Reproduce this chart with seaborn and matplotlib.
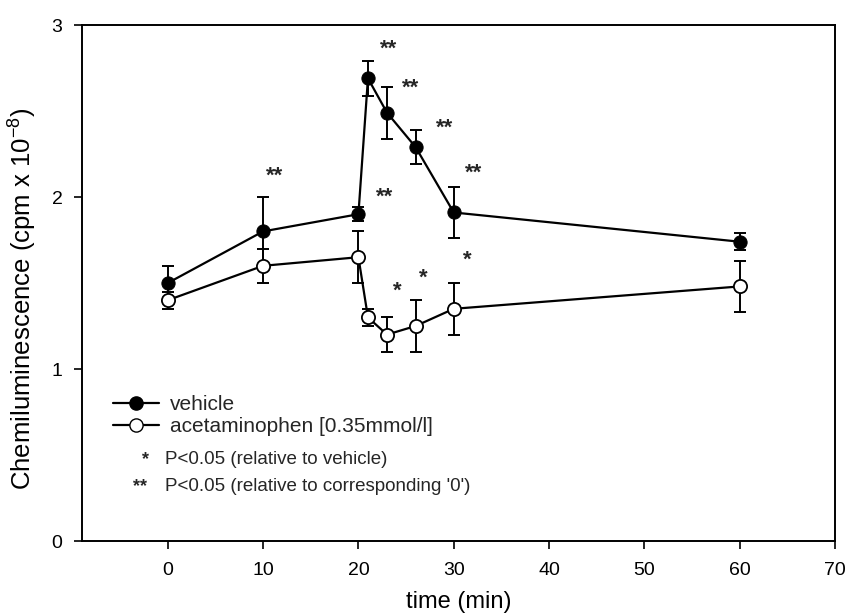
import numpy as np
import pandas as pd
import matplotlib
matplotlib.use("Agg")
import matplotlib.pyplot as plt
import seaborn as sns
from matplotlib.lines import Line2D

# ---- data ----
time_vehicle = [0, 10, 20, 21, 23, 26, 30, 60]
vehicle_mean = [1.50, 1.80, 1.90, 2.69, 2.49, 2.29, 1.91, 1.74]
vehicle_err = [0.10, 0.20, 0.04, 0.10, 0.15, 0.10, 0.15, 0.05]

time_acet = [0, 10, 20, 21, 23, 26, 30, 60]
acet_mean = [1.40, 1.60, 1.65, 1.30, 1.20, 1.25, 1.35, 1.48]
acet_err = [0.05, 0.10, 0.15, 0.05, 0.10, 0.15, 0.15, 0.15]

# significance marks (x, y)
dstar_x = [11.2, 22.8, 23.2, 25.5, 29.0, 32.1]
dstar_y = [2.12, 2.00, 2.86, 2.63, 2.40, 2.14]
star_x = [24.1, 26.8, 31.4]
star_y = [1.45, 1.53, 1.63]

x_ticks = [0, 10, 20, 30, 40, 50, 60, 70]
y_ticks = [0, 1, 2, 3]

sns.set_theme(style="white")
plt.rcParams['font.family'] = ['Liberation Sans', 'DejaVu Sans']
plt.rcParams['mathtext.fontset'] = 'custom'
plt.rcParams['mathtext.rm'] = 'Liberation Sans'
plt.rcParams['mathtext.it'] = 'Liberation Sans:italic'
plt.rcParams['mathtext.bf'] = 'Liberation Sans:bold'

fig = plt.figure(figsize=(8.49, 6.15), dpi=100)
ax = fig.add_axes([82/849, 1-541/615, (835-82)/849, (541-25)/615])

df = pd.concat([
    pd.DataFrame({"time": time_vehicle, "value": vehicle_mean, "group": "vehicle"}),
    pd.DataFrame({"time": time_acet, "value": acet_mean, "group": "acet"}),
])

# error bars
ax.errorbar(time_vehicle, vehicle_mean, yerr=vehicle_err, fmt='none',
            ecolor='black', elinewidth=1.4, capsize=4, capthick=1.4, zorder=2)
ax.errorbar(time_acet, acet_mean, yerr=acet_err, fmt='none',
            ecolor='black', elinewidth=1.4, capsize=4, capthick=1.4, zorder=2)

sns.lineplot(data=df[df.group == "vehicle"], x="time", y="value", ax=ax,
             color='black', lw=1.6, marker='o', markersize=9.5,
             markerfacecolor='black', markeredgecolor='black', zorder=3)
sns.lineplot(data=df[df.group == "acet"], x="time", y="value", ax=ax,
             color='black', lw=1.6, marker='o', markersize=9.5,
             markerfacecolor='white', markeredgecolor='black',
             markeredgewidth=1.3, zorder=3)

for x, y in zip(dstar_x, dstar_y):
    ax.text(x, y, "**", fontsize=16, fontweight='bold', ha='center', va='center')
for x, y in zip(star_x, star_y):
    ax.text(x, y, "*", fontsize=16, fontweight='bold', ha='center', va='center')

ax.set_xlim(-9, 70)
ax.set_ylim(0, 3)
ax.set_xticks(x_ticks)
ax.set_yticks(y_ticks)
ax.tick_params(axis='both', direction='out', length=6, width=1.2,
               labelsize=14, color='black', labelcolor='black',
               bottom=True, left=True, top=False, right=False)
ax.tick_params(axis='x', pad=9)
ax.tick_params(axis='y', pad=8)
for s in ax.spines.values():
    s.set_color('black')
    s.set_linewidth(1.4)
    s.set_visible(True)

ax.set_xlabel("time (min)", fontsize=17, labelpad=9, color='black')
ax.set_ylabel("Chemiluminescence (cpm x 10$^{-8}$)", fontsize=18.5,
              color='black')
ax.yaxis.set_label_coords(-0.057, 0.47)

handles = [
    Line2D([0], [0], color='black', lw=1.6, marker='o', markersize=9.5,
           markerfacecolor='black', markeredgecolor='black'),
    Line2D([0], [0], color='black', lw=1.6, marker='o', markersize=9.5,
           markerfacecolor='white', markeredgecolor='black'),
]
leg = ax.legend(handles, ["vehicle", "acetaminophen [0.35mmol/l]"],
                loc='upper left', bbox_to_anchor=(0.041, 0.283), frameon=False,
                fontsize=15, handlelength=2.2, handletextpad=0.55,
                labelspacing=0.15, borderaxespad=0, borderpad=0)

ax.text(0.084, 0.157, "*", transform=ax.transAxes, fontsize=13,
        fontweight='bold', ha='center', va='center')
ax.text(0.110, 0.157, "P<0.05 (relative to vehicle)", transform=ax.transAxes,
        fontsize=13.5, ha='left', va='center')
ax.text(0.077, 0.105, "**", transform=ax.transAxes, fontsize=13,
        fontweight='bold', ha='center', va='center')
ax.text(0.110, 0.105, "P<0.05 (relative to corresponding '0')",
        transform=ax.transAxes, fontsize=13.5, ha='left', va='center')

fig.savefig("out.png", dpi=100)
